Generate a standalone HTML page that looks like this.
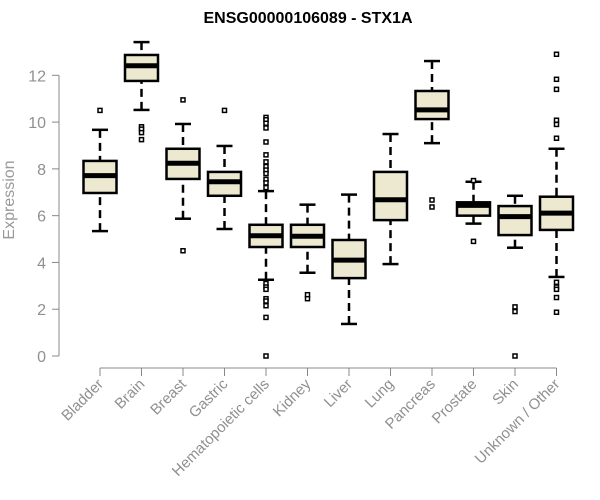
<!DOCTYPE html>
<html><head><meta charset="utf-8"><style>
body{margin:0;background:#fff}
svg{display:block;font-family:"Liberation Sans",Arial,sans-serif}
</style></head><body>
<svg id="chart" width="600" height="500">
<text x="308" y="23" text-anchor="middle" font-weight="bold" font-size="16" fill="#000">ENSG00000106089 - STX1A</text>
<text transform="translate(14,200) rotate(-90)" text-anchor="middle" font-size="16" fill="#999">Expression</text>
<g id="axes"></g><g id="boxes"></g>
</svg>
<script>
const categories=["Bladder","Brain","Breast","Gastric","Hematopoietic cells","Kidney","Liver","Lung","Pancreas","Prostate","Skin","Unknown / Other"];
const whiskerLow=[5.34,10.52,5.87,5.43,3.26,3.56,1.37,3.93,9.1,5.66,4.63,3.38];
const q1=[6.97,11.76,7.57,6.85,4.66,4.66,3.33,5.81,10.13,6.0,5.17,5.39];
const medians=[7.71,12.41,8.24,7.45,5.14,5.12,4.1,6.68,10.52,6.44,5.96,6.11];
const q3=[8.34,12.87,8.86,7.87,5.61,5.61,4.96,7.87,11.33,6.57,6.41,6.81];
const whiskerHigh=[9.67,13.42,9.92,8.98,7.05,6.47,6.9,9.49,12.61,7.45,6.85,8.86];
const outliers=[[10.5],[9.8,9.7,9.55,9.25],[10.95,4.5],[10.5],
[10.2,10.1,9.95,9.75,9.15,8.6,8.3,8.1,7.95,7.8,7.55,7.4,7.2,3.1,2.95,2.85,2.45,2.35,2.15,1.65,0],
[2.62,2.45],[],[],[6.67,6.37],[7.5,4.9],[2.1,1.9,0],[12.9,11.83,11.4,10.08,9.9,9.31,3.15,2.95,2.85,2.5,1.87]];
const yTicks=[0,2,4,6,8,10,12];
const NS="http://www.w3.org/2000/svg";
const y=v=>356-23.39*v;
const x=i=>100+i*41.5;
function mk(tag,attrs,parent){const e=document.createElementNS(NS,tag);for(const k in attrs)e.setAttribute(k,attrs[k]);parent.appendChild(e);return e;}
const ax=document.getElementById('axes'),bx=document.getElementById('boxes');
let l=mk('line',{x1:59,x2:59,y1:y(12),y2:y(0),stroke:'#888','stroke-width':1},ax);


yTicks.forEach(t=>{
 const tk=mk('line',{x1:52,x2:59,y1:y(t),y2:y(t),stroke:'#888'},ax);
 
 
 const tx=mk('text',{x:46,y:y(t)+6,'text-anchor':'end','font-size':16,fill:'#909090'},ax);
 tx.textContent=t;
 
 
});
l=mk('line',{x1:x(0),x2:x(categories.length-1),y1:368,y2:368,stroke:'#888'},ax);


categories.forEach((c,i)=>{
 const cx=x(i);
 const tk=mk('line',{x1:cx,x2:cx,y1:368,y2:376,stroke:'#888'},ax);
 
 
 const tx=mk('text',{transform:`translate(${cx+4},${385}) rotate(-45)`,'text-anchor':'end','font-size':15,fill:'#909090'},ax);
 tx.textContent=c;
 
 
 const g=mk('g',{},bx);
 
 
 mk('line',{x1:cx,x2:cx,y1:y(whiskerHigh[i]),y2:y(q3[i]),stroke:'#000','stroke-width':2.5,'stroke-dasharray':'8,5'},g);
 mk('line',{x1:cx,x2:cx,y1:y(whiskerLow[i]),y2:y(q1[i]),stroke:'#000','stroke-width':2.5,'stroke-dasharray':'8,5'},g);
 mk('line',{x1:cx-8,x2:cx+8,y1:y(whiskerHigh[i]),y2:y(whiskerHigh[i]),stroke:'#000','stroke-width':2.5},g);
 mk('line',{x1:cx-8,x2:cx+8,y1:y(whiskerLow[i]),y2:y(whiskerLow[i]),stroke:'#000','stroke-width':2.5},g);
 mk('rect',{x:cx-16.5,y:y(q3[i]),width:33,height:y(q1[i])-y(q3[i]),fill:'#ede8d0',stroke:'#000','stroke-width':2.5},g);
 mk('line',{x1:cx-16.5,x2:cx+16.5,y1:y(medians[i]),y2:y(medians[i]),stroke:'#000','stroke-width':5},g);
 outliers[i].forEach(v=>{
  const o=mk('rect',{x:cx-2,y:y(v)-2,width:4,height:4,fill:'#fff',stroke:'#000','stroke-width':1.5},g);
  
  
 });
});
</script>
</body></html>
